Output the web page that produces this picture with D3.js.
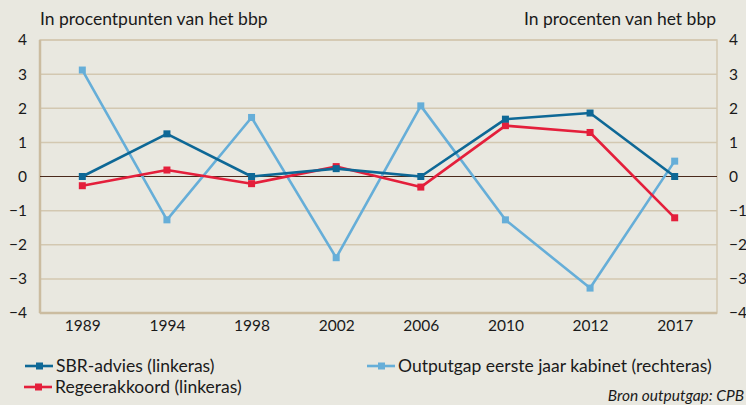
<!DOCTYPE html>
<html>
<head>
<meta charset="utf-8">
<script src="https://cdn.jsdelivr.net/npm/d3@7"></script>
<style>
  body { margin: 0; background: #e9e8e0; }
  svg { display: block; font-family: Lato, "Open Sans", sans-serif; }
</style>
</head>
<body>
<div id="graph"></div>
<script>
//Data
const years = ["1989", "1994", "1998", "2002", "2006", "2010", "2012", "2017"];
const sbrAdvies = [0, 1.25, 0, 0.23, 0, 1.68, 1.86, 0];
const regeerakkoord = [-0.27, 0.19, -0.21, 0.29, -0.31, 1.49, 1.29, -1.21];
const outputgap = [3.12, -1.27, 1.73, -2.38, 2.07, -1.27, -3.27, 0.45];
const yTicks = [-4, -3, -2, -1, 0, 1, 2, 3, 4];

//Display specifications
const W = 746, H = 405;
const margin = {top: 40, right: 29, bottom: 92, left: 40};
const width = W - margin.left - margin.right;
const height = H - margin.top - margin.bottom;

const svg = d3.select("#graph").append("svg")
  .attr("width", W)
  .attr("height", H);

svg.append("rect").attr("width", W).attr("height", H).attr("fill", "#e9e8e0");

const g = svg.append("g")
  .attr("transform", "translate(" + margin.left + "," + margin.top + ")");

//Scales
const x = d3.scalePoint().domain(years).range([0, width]).padding(0.5);
const y = d3.scaleLinear().domain([-4, 4]).range([height, 0]);
const fmt = d => d < 0 ? "\u2212" + Math.abs(d) : String(d);

//Grid
g.append("g")
  .selectAll("line")
  .data(yTicks.filter(d => d !== 0 && d !== -4))
  .enter()
  .append("line")
  .attr("x1", 0).attr("x2", width)
  .attr("y1", d => y(d)).attr("y2", d => y(d))
  .attr("stroke", "#d3c8b1")
  .attr("stroke-width", 1.5);

//Frame
g.append("rect")
  .attr("width", width).attr("height", height)
  .attr("fill", "none")
  .attr("stroke", "#d3c8b1")
  .attr("stroke-width", 1.5);

g.append("line")
  .attr("x1", 0).attr("x2", 0).attr("y1", 0).attr("y2", height)
  .attr("stroke", "#cbbca0").attr("stroke-width", 2.5);
g.append("line")
  .attr("x1", 0).attr("x2", width).attr("y1", height).attr("y2", height)
  .attr("stroke", "#cbbca0").attr("stroke-width", 2.5);

//Zero line
g.append("line")
  .attr("x1", 0).attr("x2", width)
  .attr("y1", y(0)).attr("y2", y(0))
  .attr("stroke", "#4a2a1c")
  .attr("stroke-width", 1.2);

//Y axes
const axisL = g.append("g")
  .call(d3.axisLeft(y).tickValues(yTicks).tickFormat(fmt).tickSize(0).tickPadding(13));
const axisR = g.append("g")
  .attr("transform", "translate(" + width + ",0)")
  .call(d3.axisRight(y).tickValues(yTicks).tickFormat(fmt).tickSize(0).tickPadding(12));

//X axis
const axisB = g.append("g")
  .attr("transform", "translate(0," + height + ")")
  .call(d3.axisBottom(x).tickSize(0).tickPadding(7));

[axisL, axisR, axisB].forEach(a => {
  a.select(".domain").remove();
  a.selectAll("text")
    .attr("fill", "#1a1a1a")
    .style("font-size", "15.5px")
    .style("font-family", "Lato, sans-serif");
});

//Axis titles
svg.append("text")
  .attr("x", 40).attr("y", 25)
  .text("In procentpunten van het bbp")
  .attr("fill", "#1a1a1a")
  .style("font-size", "17.5px");
svg.append("text")
  .attr("x", 716).attr("y", 25)
  .attr("text-anchor", "end")
  .text("In procenten van het bbp")
  .attr("fill", "#1a1a1a")
  .style("font-size", "17.5px");

//Series
const series = [
  {name: "Outputgap eerste jaar kabinet (rechteras)", values: outputgap, color: "#66aed8"},
  {name: "Regeerakkoord (linkeras)", values: regeerakkoord, color: "#e41f3b"},
  {name: "SBR-advies (linkeras)", values: sbrAdvies, color: "#0e6896"}
];

const line = d3.line()
  .x((d, i) => x(years[i]))
  .y(d => y(d));

series.forEach(s => {
  g.append("path")
    .attr("fill", "none")
    .attr("stroke", s.color)
    .attr("stroke-width", 2.6)
    .attr("stroke-linejoin", "round")
    .attr("d", line(s.values));

  g.append("g")
    .selectAll("rect")
    .data(s.values)
    .enter()
    .append("rect")
    .attr("x", (d, i) => x(years[i]) - 3.5)
    .attr("y", d => y(d) - 3.5)
    .attr("width", 7)
    .attr("height", 7)
    .attr("fill", s.color);
});

//Legend
const legend = [
  {name: "SBR-advies (linkeras)", color: "#0e6896", x: 25, y: 366},
  {name: "Regeerakkoord (linkeras)", color: "#e41f3b", x: 24, y: 387},
  {name: "Outputgap eerste jaar kabinet (rechteras)", color: "#66aed8", x: 367, y: 366}
];

const lg = svg.append("g").selectAll("g")
  .data(legend)
  .enter()
  .append("g")
  .attr("transform", d => "translate(" + d.x + "," + d.y + ")");

lg.append("line")
  .attr("x1", 0).attr("x2", 28)
  .attr("stroke", d => d.color)
  .attr("stroke-width", 2.6);
lg.append("rect")
  .attr("x", 11).attr("y", -3.5)
  .attr("width", 7).attr("height", 7)
  .attr("fill", d => d.color);
lg.append("text")
  .attr("x", 31).attr("y", 6)
  .text(d => d.name)
  .attr("fill", "#1a1a1a")
  .style("font-size", "17.5px");

//Source
svg.append("text")
  .attr("x", 744).attr("y", 401)
  .attr("text-anchor", "end")
  .text("Bron outputgap: CPB")
  .attr("fill", "#1a1a1a")
  .style("font-style", "italic")
  .style("font-size", "15.5px");
</script>
</body>
</html>
